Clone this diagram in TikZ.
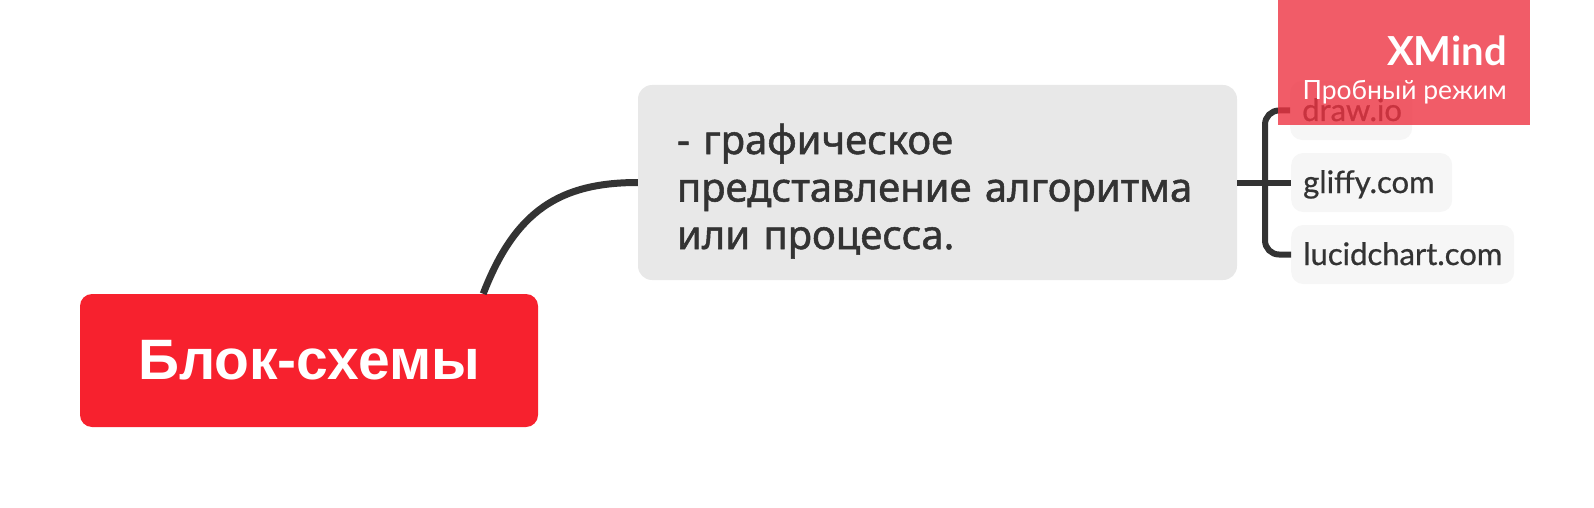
\documentclass[tikz,border=0pt]{standalone}
\usepackage{fontspec}
\setmainfont{Noto Sans}
\newfontfamily\latofont{Lato}
\newfontfamily\rootfont{Liberation Sans}
\newfontfamily\topicfont{Noto Sans}[FakeBold=1.3, NFSSFamily=notomed]
\newfontfamily\subfont{Lato}[FakeBold=0.7, NFSSFamily=latomed]
\usetikzlibrary{calc}
\definecolor{mainred}{RGB}{247,33,46}
\definecolor{topicgray}{RGB}{232,232,232}
\definecolor{subgray}{RGB}{246,246,246}
\definecolor{ink}{RGB}{51,51,51}
\definecolor{wmred}{RGB}{238,51,66}
\begin{document}
\begin{tikzpicture}[x=1pt,y=-1pt,
  rootbox/.style={fill=mainred, rounded corners=12pt, text=white, font=\rootfont\bfseries\fontsize{57}{68}\selectfont, minimum width=458pt, minimum height=133pt, inner sep=0pt},
  topicbox/.style={fill=topicgray, rounded corners=14pt, text=ink, font=\topicfont\fontsize{40}{47.5}\selectfont, align=left, text width=521pt, inner xsep=39pt, inner ysep=0pt, minimum height=195pt},
  subbox/.style={fill=subgray, rounded corners=12pt, text=ink, font=\subfont\fontsize{31}{35}\selectfont, anchor=west, align=left, inner xsep=12pt, inner ysep=0pt, minimum height=59pt, text height=21pt, text depth=0pt},
  conn/.style={draw=ink, line width=7pt},
  brace/.style={draw=ink, line width=6pt, rounded corners=14pt},
  wmbox/.style={fill=wmred, fill opacity=0.8, minimum width=252pt, minimum height=125pt, anchor=north west, inner sep=0pt},
  wmtext/.style={text=white, inner sep=0pt, anchor=base east},
]
\useasboundingbox (0,0) rectangle (1594,508);
\node[rootbox] (root) at (309,360.5) {Блок-схемы};
\node[topicbox] (topic) at (937.5,182.5) {\rule{0pt}{47.6pt}- графическое\\представление алгоритма\\или процесса.};
\node[subbox, text width=98pt] (c1) at (1290,110.5) {draw.io};
\node[subbox, text width=137pt] (c2) at (1291,182.5) {gliffy.com};
\node[subbox, text width=199pt] (c3) at (1291,254.5) {lucidchart.com};
\coordinate (bx) at (1265,0);
\draw[conn] (topic.west) .. controls +(-78,0) and +(32,-83) .. ($(root.north east)+(-55,0)$);
\draw[brace] (topic.east) -- (c2.west);
\draw[brace] (c1.west) -- (c1.west -| bx) -- (c3.west -| bx) -- (c3.west);
\node[wmbox] (wm) at (1278,0) {};
\node[wmtext, font=\latofont\bfseries\fontsize{40}{44}\selectfont] (wm1) at (1507,66) {XMind};
\node[wmtext, font=\latofont\fontsize{26.5}{30}\selectfont] (wm2) at (1507,100) {Пробный режим};
\end{tikzpicture}
\end{document}
